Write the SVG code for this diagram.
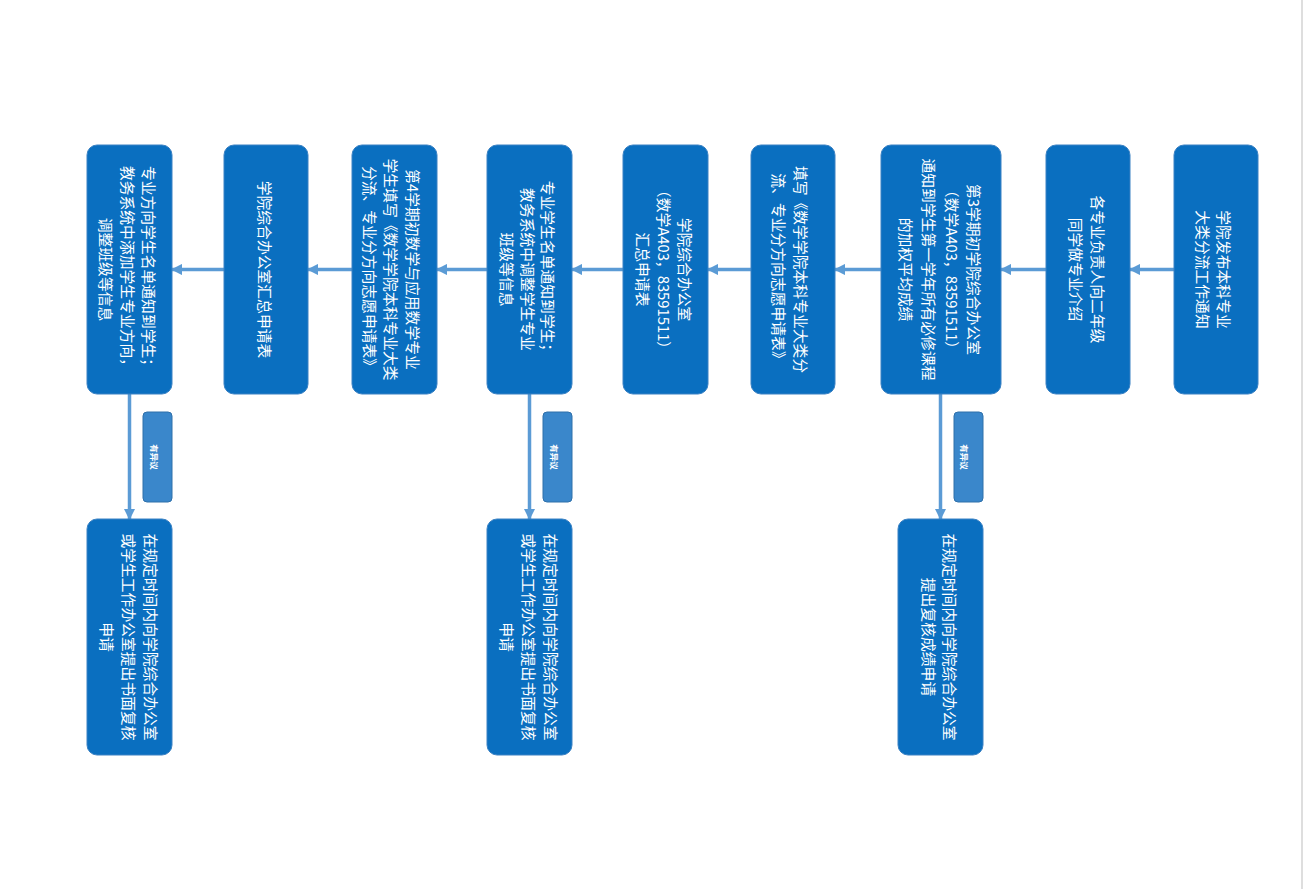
<svg xmlns="http://www.w3.org/2000/svg" width="1303" height="889" viewBox="0 0 1303 889">
<defs>
<marker id="ah" viewBox="0 0 10 10" refX="9" refY="5" markerWidth="3.4" markerHeight="3.2" orient="auto" markerUnits="strokeWidth">
<path d="M0,0 L10,5 L0,10 Z" fill="#5b9bd5"/>
</marker>
<style>
.node rect{fill:#0a6fc0;stroke:#3b82c4;stroke-width:1}
.lab rect{fill:#3a87cb;stroke:#2f70aa;stroke-width:1}
.node text,.lab text{fill:#ffffff;font-family:"Noto Sans CJK SC","Noto Sans",sans-serif;text-anchor:middle;dominant-baseline:central}
.node text{font-size:14.8px}
.lab text{font-size:8.5px;font-weight:bold}
.conn line{stroke:#5b9bd5;stroke-width:3.5;marker-end:url(#ah)}
</style>
</defs>
<rect x="0" y="0" width="1303" height="889" fill="#ffffff"/>
<line x1="1302" y1="0" x2="1302" y2="889" stroke="#c8c8c8" stroke-width="1.2"/>

<g id="connectors" class="conn">
<line x1="1174" y1="269.5" x2="1130" y2="269.5"/>
<line x1="1046" y1="269.5" x2="1001" y2="269.5"/>
<line x1="881" y1="269.5" x2="835" y2="269.5"/>
<line x1="751" y1="269.5" x2="708" y2="269.5"/>
<line x1="623" y1="269.5" x2="572" y2="269.5"/>
<line x1="487" y1="269.5" x2="437" y2="269.5"/>
<line x1="352" y1="269.5" x2="308" y2="269.5"/>
<line x1="224" y1="269.5" x2="172" y2="269.5"/>
<line x1="129.5" y1="394" x2="129.5" y2="519"/>
<line x1="529.5" y1="394" x2="529.5" y2="519"/>
<line x1="940.5" y1="394" x2="940.5" y2="519"/>
<path d="M1213,388.5 L1219,388.5 L1216,393 Z" fill="#5b9bd5"/>
</g>

<g id="n1" class="node">
<rect x="1174" y="145" width="84" height="249" rx="10"/>
<text transform="translate(1214,269.5) rotate(90)"><tspan x="0" y="-10.5">学院发布本科专业</tspan><tspan x="0" y="10.5">大类分流工作通知</tspan></text>
</g>
<g id="n2" class="node">
<rect x="1046" y="145" width="84" height="249" rx="10"/>
<text transform="translate(1088,269.5) rotate(90)"><tspan x="0" y="-11">各专业负责人向二年级</tspan><tspan x="0" y="11">同学做专业介绍</tspan></text>
</g>
<g id="n3" class="node">
<rect x="881" y="145" width="120" height="249" rx="10"/>
<text transform="translate(941,269.5) rotate(90)"><tspan x="0" y="-34">第3学期初学院综合办公室</tspan><tspan x="0" y="-11.5">（数学A403，83591511）</tspan><tspan x="0" y="11.5">通知到学生第一学年所有必修课程</tspan><tspan x="0" y="34">的加权平均成绩</tspan></text>
</g>
<g id="n4" class="node">
<rect x="751" y="145" width="84" height="249" rx="10"/>
<text transform="translate(791,269.5) rotate(90)"><tspan x="0" y="-11">填写《数学学院本科专业大类分</tspan><tspan x="0" y="11">流、专业分方向志愿申请表》</tspan></text>
</g>
<g id="n5" class="node">
<rect x="623" y="145" width="85" height="249" rx="10"/>
<text transform="translate(664.5,269.5) rotate(90)"><tspan x="0" y="-21">学院综合办公室</tspan><tspan x="0" y="0">（数学A403，83591511）</tspan><tspan x="0" y="21">汇总申请表</tspan></text>
</g>
<g id="n6" class="node">
<rect x="487" y="145" width="85" height="249" rx="10"/>
<text transform="translate(528.5,269.5) rotate(90)"><tspan x="0" y="-20.5">专业学生名单通知到学生；</tspan><tspan x="0" y="0">教务系统中调整学生专业</tspan><tspan x="0" y="20.5">班级等信息</tspan></text>
</g>
<g id="n7" class="node">
<rect x="352" y="145" width="85" height="249" rx="10"/>
<text transform="translate(392,269.5) rotate(90)"><tspan x="0" y="-21.5">第4学期初数学与应用数学专业</tspan><tspan x="0" y="0">学生填写《数学学院本科专业大类</tspan><tspan x="0" y="21.5">分流、专业分方向志愿申请表》</tspan></text>
</g>
<g id="n8" class="node">
<rect x="224" y="145" width="84" height="249" rx="10"/>
<text transform="translate(266,269.5) rotate(90)"><tspan x="0" y="0">学院综合办公室汇总申请表</tspan></text>
</g>
<g id="n9" class="node">
<rect x="87" y="145" width="85" height="249" rx="10"/>
<text transform="translate(128.5,269.5) rotate(90)"><tspan x="0" y="-21.5">专业方向学生名单通知到学生；</tspan><tspan x="0" y="0">教务系统中添加学生专业方向，</tspan><tspan x="0" y="21.5">调整班级等信息</tspan></text>
</g>

<g id="n9b" class="node">
<rect x="87" y="519" width="85" height="236" rx="10"/>
<text transform="translate(130,637) rotate(90)"><tspan x="0" y="-22">在规定时间内向学院综合办公室</tspan><tspan x="0" y="0">或学生工作办公室提出书面复核</tspan><tspan x="0" y="22">申请</tspan></text>
</g>
<g id="n6b" class="node">
<rect x="487" y="519" width="85" height="236" rx="10"/>
<text transform="translate(530,637) rotate(90)"><tspan x="0" y="-22">在规定时间内向学院综合办公室</tspan><tspan x="0" y="0">或学生工作办公室提出书面复核</tspan><tspan x="0" y="22">申请</tspan></text>
</g>
<g id="n3b" class="node">
<rect x="898" y="519" width="85" height="236" rx="10"/>
<text transform="translate(940,637) rotate(90)"><tspan x="0" y="-10.5">在规定时间内向学院综合办公室</tspan><tspan x="0" y="10.5">提出复核成绩申请</tspan></text>
</g>

<g id="l1" class="lab">
<rect x="143" y="412" width="29" height="90" rx="4"/>
<text transform="translate(155,457) rotate(90)">有异议</text>
</g>
<g id="l2" class="lab">
<rect x="543" y="412" width="29" height="90" rx="4"/>
<text transform="translate(555,457) rotate(90)">有异议</text>
</g>
<g id="l3" class="lab">
<rect x="954" y="412" width="29" height="90" rx="4"/>
<text transform="translate(965,457) rotate(90)">有异议</text>
</g>
</svg>
